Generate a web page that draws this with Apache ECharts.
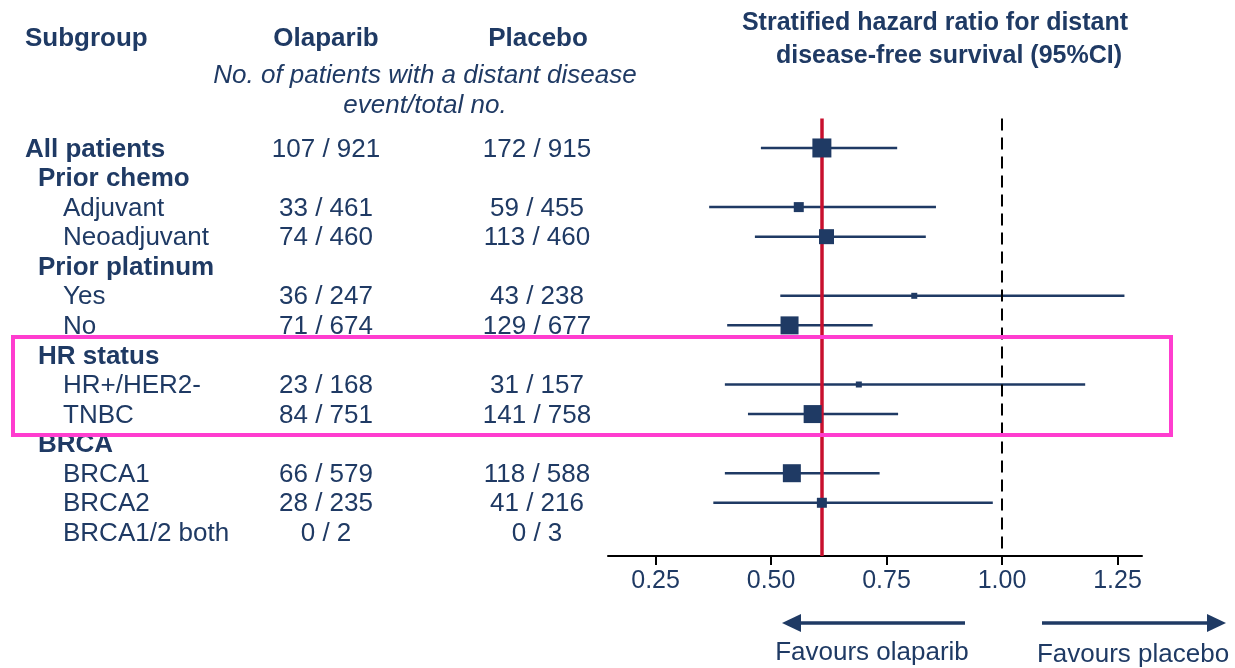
<!DOCTYPE html>
<html>
<head>
<meta charset="utf-8">
<script src="https://cdn.jsdelivr.net/npm/echarts@6/dist/echarts.min.js"></script>
<style>
html,body{margin:0;padding:0;background:#fff;}
#chart{width:1235px;height:668px;}
</style>
</head>
<body>
<div id="chart"></div>
<script>
// ---- data ----
const subgroups = ['All patients','Prior chemo','Adjuvant','Neoadjuvant','Prior platinum','Yes','No','HR status','HR+/HER2-','TNBC','BRCA','BRCA1','BRCA2','BRCA1/2 both'];
const levels    = [0,1,2,2,1,2,2,1,2,2,1,2,2,2];
const olaparibCounts = ['107 / 921','','33 / 461','74 / 460','','36 / 247','71 / 674','','23 / 168','84 / 751','','66 / 579','28 / 235','0 / 2'];
const placeboCounts  = ['172 / 915','','59 / 455','113 / 460','','43 / 238','129 / 677','','31 / 157','141 / 758','','118 / 588','41 / 216','0 / 3'];
const hazardRatio = [0.61,null,0.56,0.62,null,0.81,0.54,null,0.69,0.59,null,0.545,0.61,null];
const ciLower     = [0.478,null,0.366,0.465,null,0.52,0.405,null,0.40,0.45,null,0.40,0.375,null];
const ciUpper     = [0.773,null,0.857,0.835,null,1.265,0.72,null,1.18,0.775,null,0.735,0.98,null];
const weights     = [19,null,10,15,null,6,18,null,6,18,null,18,10,null];
const overallHR = 0.61;
const nullHR = 1.0;
const tickValues = [0.25,0.5,0.75,1.0,1.25];

// ---- styles ----
const NAVY = '#1f3a64';
const FONT = '"Liberation Sans", Arial, sans-serif';
const indentPx = [25, 38, 63];
const colOlaparib = 326;
const colPlacebo = 537;

const chart = echarts.init(document.getElementById('chart'), null, {renderer:'canvas'});

const rows = subgroups.map((s,i)=>[0,i]);
const ciData = [];
const ptData = [];
hazardRatio.forEach((v,i)=>{
  if (v == null) return;
  ciData.push([ciLower[i], ciUpper[i], i]);
  ptData.push([v, i, weights[i]]);
});

const gridTop = 118.4, gridBottom = 112;

const option = {
  animation:false,
  backgroundColor:'#fff',
  grid:[
    {left:608, right:93, top:gridTop, bottom:gridBottom},
    {left:0, width:600, top:gridTop, bottom:gridBottom}
  ],
  xAxis:[
    {gridIndex:0, type:'value', min:0.147, max:1.303, position:'bottom',
     axisLine:{show:true, onZero:false, lineStyle:{color:'#000', width:2}},
     axisTick:{show:true, customValues:tickValues, length:9, lineStyle:{color:'#000', width:2}},
     axisLabel:{show:true, customValues:tickValues, formatter:(v)=>Number(v).toFixed(2), color:NAVY, fontSize:25, fontFamily:FONT, margin:13},
     splitLine:{show:false}},
    {gridIndex:1, type:'value', min:0, max:600, show:false}
  ],
  yAxis:[
    {gridIndex:0, type:'value', min:-1, max:13.8, inverse:true, show:false},
    {gridIndex:1, type:'value', min:-1, max:13.8, inverse:true, show:false}
  ],
  series:[
    {
      type:'custom', xAxisIndex:1, yAxisIndex:1, data:rows, silent:true,
      renderItem:(params, api)=>{
        const i = api.value(1);
        const lvl = levels[i];
        const bold = lvl < 2;
        const y = api.coord([0,i])[1] + 1.5;
        const children = [{
          type:'text', style:{x:indentPx[lvl], y:y, text:subgroups[i], fill:NAVY,
            font:(bold?'bold ':'')+'26px '+FONT, textVerticalAlign:'middle', textAlign:'left'}
        }];
        if (olaparibCounts[i]) children.push({type:'text', style:{x:api.coord([colOlaparib,i])[0], y:y, text:olaparibCounts[i], fill:NAVY, font:'26px '+FONT, textAlign:'center', textVerticalAlign:'middle'}});
        if (placeboCounts[i]) children.push({type:'text', style:{x:api.coord([colPlacebo,i])[0], y:y, text:placeboCounts[i], fill:NAVY, font:'26px '+FONT, textAlign:'center', textVerticalAlign:'middle'}});
        return {type:'group', children};
      }
    },
    {
      type:'custom', xAxisIndex:0, yAxisIndex:0, data:ciData, silent:true, z:3,
      renderItem:(params, api)=>{
        const a = api.coord([api.value(0), api.value(2)]);
        const b = api.coord([api.value(1), api.value(2)]);
        return {type:'line', shape:{x1:a[0], y1:a[1], x2:b[0], y2:b[1]}, style:{stroke:NAVY, lineWidth:2.5}};
      }
    },
    {
      type:'scatter', xAxisIndex:0, yAxisIndex:0, data:ptData, symbol:'rect', z:5, silent:true,
      symbolSize:(v)=>v[2],
      itemStyle:{color:NAVY, opacity:1},
      markLine:{
        silent:true, symbol:'none', label:{show:false}, z:4,
        data:[
          {xAxis:nullHR, lineStyle:{color:'#000', width:2, type:[12,7]}},
          {xAxis:overallHR, lineStyle:{color:'#c8102e', width:3.5, type:'solid'}}
        ]
      }
    }
  ],
  graphic:[
    {type:'text', x:25, y:39, style:{text:'Subgroup', fill:NAVY, font:'bold 26px '+FONT, textAlign:'left', textVerticalAlign:'middle'}},
    {type:'text', x:326, y:39, style:{text:'Olaparib', fill:NAVY, font:'bold 26px '+FONT, textAlign:'center', textVerticalAlign:'middle'}},
    {type:'text', x:538, y:39, style:{text:'Placebo', fill:NAVY, font:'bold 26px '+FONT, textAlign:'center', textVerticalAlign:'middle'}},
    {type:'text', x:425, y:76, style:{text:'No. of patients with a distant disease', fill:NAVY, font:'italic 26px '+FONT, textAlign:'center', textVerticalAlign:'middle'}},
    {type:'text', x:425, y:106, style:{text:'event/total no.', fill:NAVY, font:'italic 26px '+FONT, textAlign:'center', textVerticalAlign:'middle'}},
    {type:'text', x:935, y:23, style:{text:'Stratified hazard ratio for distant', fill:NAVY, font:'bold 25px '+FONT, textAlign:'center', textVerticalAlign:'middle'}},
    {type:'text', x:949, y:56, style:{text:'disease-free survival (95%CI)', fill:NAVY, font:'bold 25px '+FONT, textAlign:'center', textVerticalAlign:'middle'}},
    {type:'line', shape:{x1:965, y1:623, x2:796, y2:623}, style:{stroke:NAVY, lineWidth:3.5}},
    {type:'polygon', shape:{points:[[782,623],[801,614],[801,632]]}, style:{fill:NAVY}},
    {type:'line', shape:{x1:1042, y1:623, x2:1210, y2:623}, style:{stroke:NAVY, lineWidth:3.5}},
    {type:'polygon', shape:{points:[[1226,623],[1207,614],[1207,632]]}, style:{fill:NAVY}},
    {type:'text', x:872, y:653, style:{text:'Favours olaparib', fill:NAVY, font:'26px '+FONT, textAlign:'center', textVerticalAlign:'middle'}},
    {type:'text', x:1133, y:655, style:{text:'Favours placebo', fill:NAVY, font:'26px '+FONT, textAlign:'center', textVerticalAlign:'middle'}},
    {type:'rect', z:100, shape:{x:13, y:337, width:1158, height:98}, style:{fill:'none', stroke:'#ff3dcf', lineWidth:4}}
  ]
};
chart.setOption(option);
</script>
</body>
</html>
